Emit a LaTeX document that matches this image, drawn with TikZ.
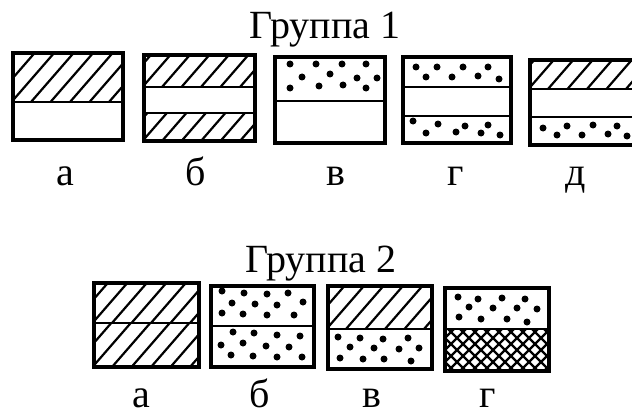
\documentclass[tikz,border=0pt]{standalone}
\usepackage{fontspec}
\setmainfont{Liberation Serif}
\tikzset{
  frame/.style={line width=3.2pt},
  divider/.style={line width=2.8pt},
  hatchline/.style={line width=2.2pt},
  dot/.style={fill=black},
  caption/.style={font=\fontsize{40}{42}\selectfont, inner sep=0pt,
                  text depth=0pt, anchor=base},
}
% single hatching: #1,#2 top-left, #3,#4 bottom-right (y grows downward)
\newcommand\hatchfill[4]{%
  \begin{scope}
    \clip (#1,#2) rectangle (#3,#4);
    \foreach \i in {0,...,9}
      \draw[hatchline] ({#1-60+\i*19.5},#4) -- ++(60,-69);
  \end{scope}}
% cross hatching
\newcommand\crossfill[4]{%
  \begin{scope}
    \clip (#1,#2) rectangle (#3,#4);
    \foreach \i in {0,...,14}{
      \draw[hatchline] ({#1-45+\i*12},#4) -- ++(45,-45);
      \draw[hatchline] ({#1-45+\i*12},#2) -- ++(45,45);
    }
  \end{scope}}
% scattered dots, list of x/y pairs
\newcommand\dotset[1]{\foreach \px/\py in {#1} \fill[dot] (\px,\py) circle (3.5);}
\begin{document}
\begin{tikzpicture}[x=1pt,y=-1pt]
\clip (0,0) rectangle (632,412);
\fill[white] (0,0) rectangle (632,412);

% ---------- group 1 ----------
\node[caption] (t1) at (325,39) {Группа 1};

% a: hatched top, empty bottom
\hatchfill{13}{53}{123}{102}
\draw[divider] (13,102) -- (123,102);
\draw[frame] (13,53) rectangle (123,140);

% b: hatched top and bottom, empty middle
\hatchfill{144}{55}{255}{87}
\hatchfill{144}{113}{255}{141}
\draw[divider] (144,87) -- (255,87) (144,113) -- (255,113);
\draw[frame] (144,55) rectangle (255,141);

% v: dotted top, empty bottom
\dotset{290/64, 316/64, 342/64, 366/64, 302/77, 330/74, 357/78, 377/78,
        290/88, 319/86, 343/85, 366/88}
\draw[divider] (275,101) -- (385,101);
\draw[frame] (275,57) rectangle (385,143);

% g: dotted top and bottom, empty middle
\dotset{416/67, 426/77, 437/67, 452/77, 463/67, 478/76, 488/67, 499/79,
        413/121, 426/133, 438/124, 456/132, 465/126, 481/133, 488/125, 500/135}
\draw[divider] (403,87) -- (511,87) (403,116) -- (511,116);
\draw[frame] (403,57) rectangle (511,143);

% d: hatched top, empty middle, dotted bottom
\hatchfill{530}{60}{642}{89}
\dotset{543/128, 557/135, 567/126, 582/135, 593/125, 608/134, 617/126, 627/136}
\draw[divider] (530,89) -- (642,89) (530,117) -- (642,117);
\draw[frame] (530,60) rectangle (642,145);

\node[caption] (l1a) at (65,185) {а};
\node[caption] (l1b) at (196,185) {б};
\node[caption] (l1v) at (336,185) {в};
\node[caption] (l1g) at (456,185) {г};
\node[caption] (l1d) at (576,185) {д};

% ---------- group 2 ----------
\node[caption] (t2) at (321,272) {Группа 2};

% a: hatched top and bottom
\hatchfill{94}{283}{199}{323}
\hatchfill{94}{323}{199}{367}
\draw[divider] (94,323) -- (199,323);
\draw[frame] (94,283) rectangle (199,367);

% b: dotted top and bottom
\dotset{222/291, 244/293, 267/294, 288/293, 232/303, 255/304, 277/305, 303/302,
        222/313, 243/314, 267/315, 294/315,
        233/332, 254/333, 277/335, 300/336, 221/345, 243/343, 266/346, 289/347,
        231/355, 253/356, 277/357, 302/357}
\draw[divider] (211,326) -- (314,326);
\draw[frame] (211,286) rectangle (314,367);

% v: hatched top, dotted bottom
\hatchfill{328}{286}{432}{329}
\dotset{338/337, 360/338, 383/339, 408/338, 350/347, 374/348, 399/349, 419/348,
        340/358, 363/359, 384/359, 411/361}
\draw[divider] (328,329) -- (432,329);
\draw[frame] (328,286) rectangle (432,369);

% g: dotted top, cross-hatched bottom
\dotset{458/297, 478/299, 502/298, 525/299, 469/307, 493/308, 517/308, 537/309,
        459/317, 481/319, 507/319, 527/322}
\crossfill{445}{329}{549}{371}
\draw[divider] (445,329) -- (549,329);
\draw[frame] (445,288) rectangle (549,371);

\node[caption] (l2a) at (141,407) {а};
\node[caption] (l2b) at (260,407) {б};
\node[caption] (l2v) at (372,407) {в};
\node[caption] (l2g) at (488,407) {г};
\end{tikzpicture}
\end{document}
